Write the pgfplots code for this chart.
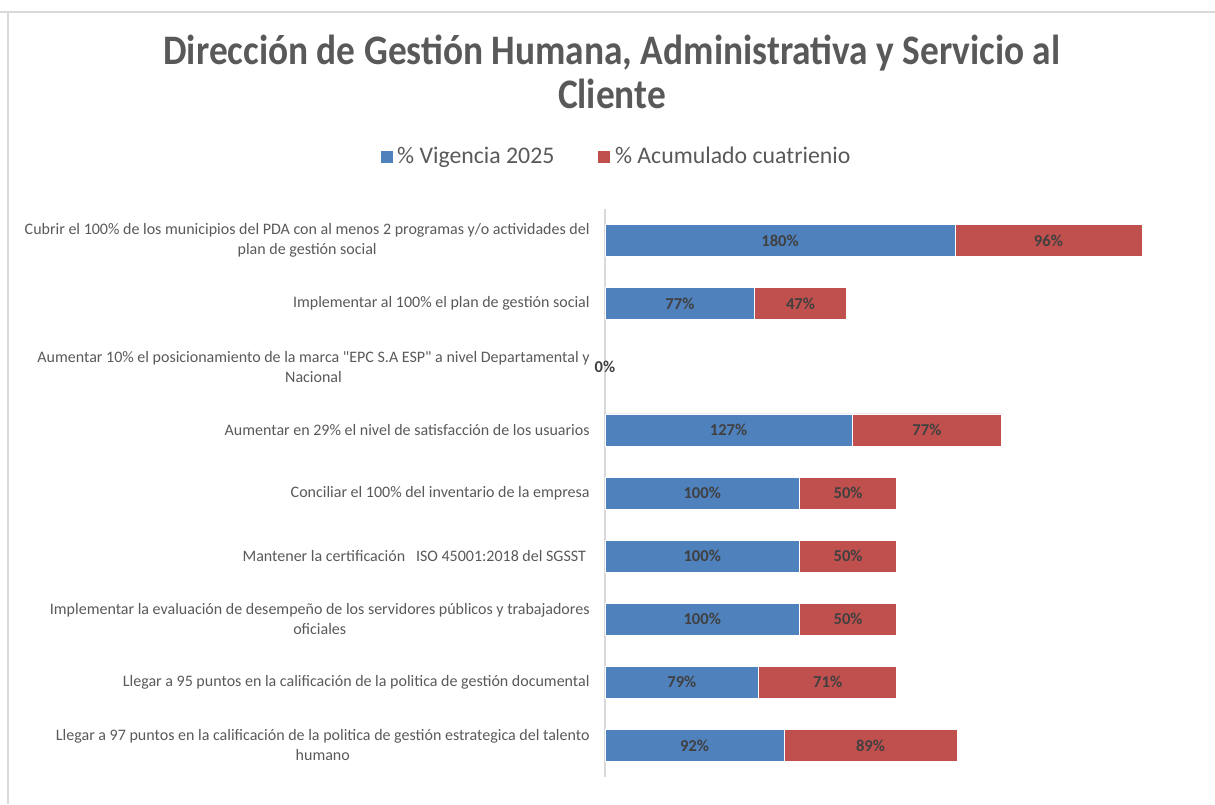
\documentclass[border=0pt]{standalone}
\usepackage{fontspec}
\setmainfont{Carlito}
\newfontfamily\titlefont{Carlito}[FakeStretch=0.89]
\usepackage{pgfplots}
\pgfplotsset{compat=1.18}
\definecolor{barblue}{HTML}{4F81BD}
\definecolor{barred}{HTML}{C0504D}
\definecolor{txtgray}{HTML}{595959}
\definecolor{lblgray}{HTML}{404040}
\definecolor{linegray}{HTML}{D9D9D9}

\begin{document}
\begin{tikzpicture}
% page = 1215x804 px, 1 px = 0.5 pt
\path[use as bounding box] (0,0) rectangle (607.5pt,402pt);
\draw[linegray, line width=0.8pt] (0,396pt) -- (607.5pt,396pt);
\draw[linegray, line width=0.8pt] (4pt,396pt) -- (4pt,0);

\node[font=\titlefont\bfseries\fontsize{21}{22}\selectfont, text=txtgray, align=center]
  at (306pt,366pt) {Dirección de Gestión Humana, Administrativa y Servicio al\\Cliente};

\begin{axis}[
  at={(302.5pt,13.5pt)}, anchor=south west,
  scale only axis, width=291.75pt, height=284pt,
  xbar stacked, bar width=16pt,
  xmin=0, xmax=300,
  ymin=0.5, ymax=9.5, y dir=reverse,
  axis x line=none,
  axis y line*=left,
  y axis line style={linegray, line width=1pt, -},
  ytick={1,...,9}, major tick length=0pt,
  yticklabels={
    {Cubrir el 100\% de los municipios del PDA con al menos 2 programas y/o actividades del\\plan de gestión social},
    {Implementar al 100\% el plan de gestión social},
    {Aumentar 10\% el posicionamiento de la marca \textquotedbl EPC S.A ESP\textquotedbl{} a nivel Departamental y\\Nacional},
    {Aumentar en 29\% el nivel de satisfacción de los usuarios},
    {Conciliar el 100\% del inventario de la empresa},
    {Mantener la certificación \ \ ISO 45001:2018 del SGSST\ },
    {Implementar la evaluación de desempeño de los servidores públicos y trabajadores\\oficiales},
    {Llegar a 95 puntos en la calificación de la politica de gestión documental},
    {Llegar a 97 puntos en la calificación de la politica de gestión estrategica del talento\\humano}},
  yticklabel style={align=center, font=\fontsize{8}{10}\selectfont, text=txtgray, inner sep=0pt, xshift=-7.5pt},
  point meta=explicit symbolic,
  nodes near coords={\pgfplotspointmeta\%},
  every node near coord/.append style={font=\bfseries\fontsize{8.3}{9}\selectfont, text=lblgray, anchor=center},
  legend style={at={(0.0206,1.0915)}, anchor=center, draw=none, fill=none,
    legend columns=2, font=\fontsize{11.9}{13}\selectfont, text=txtgray,
    /tikz/every even column/.append style={column sep=19.5pt},
    legend cell align=left},
  legend image code/.code={\fill[#1] (0pt,-3.25pt) rectangle (6.5pt,3.25pt);},
  clip=false,
]
\addplot[fill=barblue, draw=white, line width=0.3pt] coordinates {
  (180,1) [180] (77,2) [77] (0,3) [0] (127,4) [127] (100,5) [100]
  (100,6) [100] (100,7) [100] (79,8) [79] (92,9) [92]};
\addplot[fill=barred, draw=white, line width=0.3pt] coordinates {
  (96,1) [96] (47,2) [47] (0,3) [0] (77,4) [77] (50,5) [50]
  (50,6) [50] (50,7) [50] (71,8) [71] (89,9) [89]};
\legend{\% Vigencia 2025, \% Acumulado cuatrienio}
% zero-valued row: its data label
\node[font=\bfseries\fontsize{8.3}{9}\selectfont, text=lblgray] at (axis cs:0,3) {0\%};
\end{axis}
\end{tikzpicture}
\end{document}
